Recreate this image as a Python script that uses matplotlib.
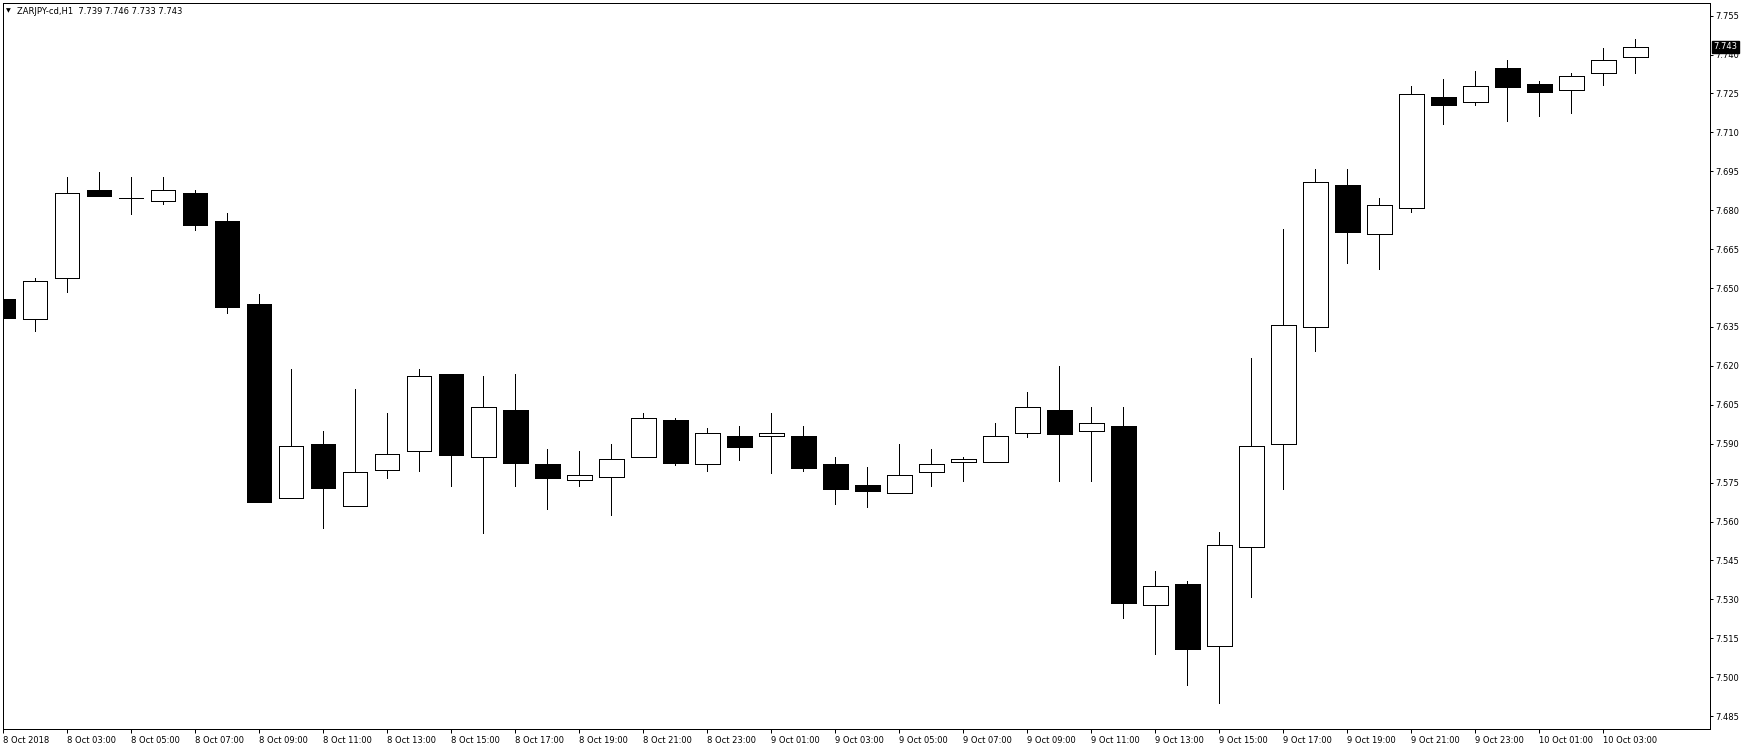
import numpy as np
import matplotlib
matplotlib.use('Agg')
import matplotlib.pyplot as plt
import matplotlib.transforms as mtransforms
from matplotlib.patches import Rectangle

plt.rcParams['font.family'] = ['DejaVu Sans']
plt.rcParams['font.size'] = 6

# ZARJPY-cd H1, 8 Oct 01:00 -> 10 Oct 04:00
opens = [7.6458, 7.6380, 7.6537, 7.6877, 7.6846, 7.6837, 7.6866, 7.6758, 7.6439, 7.5690,
         7.5899, 7.5658, 7.5797, 7.5871, 7.6169, 7.5848, 7.6030, 7.5822, 7.5759, 7.5771,
         7.5848, 7.5991, 7.5821, 7.5929, 7.5929, 7.5929, 7.5822, 7.5741, 7.5709, 7.5790,
         7.5828, 7.5828, 7.5940, 7.6029, 7.5948, 7.5968, 7.5279, 7.5359, 7.5119, 7.5501,
         7.5898, 7.6349, 7.6896, 7.6707, 7.6807, 7.7235, 7.7216, 7.7347, 7.7285, 7.7265,
         7.7328, 7.739]
highs = [7.6518, 7.6539, 7.6928, 7.6947, 7.6928, 7.6928, 7.6877, 7.6789, 7.6476, 7.6188,
         7.5949, 7.6111, 7.6018, 7.6188, 7.6170, 7.6161, 7.6169, 7.5880, 7.5872, 7.5899,
         7.6018, 7.5998, 7.5960, 7.5968, 7.6018, 7.5968, 7.5849, 7.5810, 7.5899, 7.5880,
         7.5849, 7.5980, 7.6099, 7.6199, 7.6041, 7.6041, 7.5409, 7.5371, 7.5560, 7.6230,
         7.6728, 7.6959, 7.6959, 7.6847, 7.7279, 7.7306, 7.7337, 7.7379, 7.7298, 7.7329,
         7.7425, 7.746]
lows = [7.6335, 7.6336, 7.6485, 7.6856, 7.6787, 7.6825, 7.6725, 7.6405, 7.5675, 7.5690,
        7.5576, 7.5658, 7.5769, 7.5796, 7.5738, 7.5557, 7.5738, 7.5649, 7.5738, 7.5626,
        7.5848, 7.5819, 7.5796, 7.5838, 7.5788, 7.5796, 7.5669, 7.5657, 7.5709, 7.5738,
        7.5757, 7.5828, 7.5927, 7.5757, 7.5757, 7.5229, 7.5091, 7.4971, 7.4899, 7.5310,
        7.5727, 7.6259, 7.6598, 7.6575, 7.6794, 7.7134, 7.7207, 7.7145, 7.7164, 7.7176,
        7.7284, 7.733]
closes = [7.6386, 7.6526, 7.6865, 7.6856, 7.6846, 7.6877, 7.6744, 7.6427, 7.5675, 7.5890,
          7.5729, 7.5790, 7.5859, 7.6160, 7.5858, 7.6040, 7.5827, 7.5769, 7.5778, 7.5840,
          7.5998, 7.5827, 7.5940, 7.5888, 7.5940, 7.5808, 7.5727, 7.5719, 7.5778, 7.5821,
          7.5840, 7.5929, 7.6040, 7.5939, 7.5979, 7.5287, 7.5350, 7.5110, 7.5508, 7.5890,
          7.6356, 7.6907, 7.6717, 7.6819, 7.7247, 7.7207, 7.7278, 7.7276, 7.7255, 7.7316,
          7.7378, 7.743]

x_labels = ['8 Oct 2018', '8 Oct 03:00', '8 Oct 05:00', '8 Oct 07:00', '8 Oct 09:00',
            '8 Oct 11:00', '8 Oct 13:00', '8 Oct 15:00', '8 Oct 17:00', '8 Oct 19:00',
            '8 Oct 21:00', '8 Oct 23:00', '9 Oct 01:00', '9 Oct 03:00', '9 Oct 05:00',
            '9 Oct 07:00', '9 Oct 09:00', '9 Oct 11:00', '9 Oct 13:00', '9 Oct 15:00',
            '9 Oct 17:00', '9 Oct 19:00', '9 Oct 21:00', '9 Oct 23:00', '10 Oct 01:00',
            '10 Oct 03:00']
y_ticks = [7.485, 7.500, 7.515, 7.530, 7.545, 7.560, 7.575, 7.590, 7.605, 7.620,
           7.635, 7.650, 7.665, 7.680, 7.695, 7.710, 7.725, 7.740, 7.755]

W, H = 1750, 750
fig = plt.figure(figsize=(W / 100, H / 100), dpi=100)
fig.patch.set_facecolor('white')
ax = fig.add_axes([2.5 / W, (H - 729.3) / H, (1710 - 2.5) / W, (729.3 - 2.7) / H])

# candles, 1px lines
lw = 0.72
n = len(opens)
body_w = 0.76
for i in range(n):
    o, h, l, c = opens[i], highs[i], lows[i], closes[i]
    ax.vlines(i, l, h, colors='black', linewidth=lw, antialiased=False, zorder=2)
    bottom = min(o, c)
    height = abs(c - o)
    fc = 'white' if c >= o else 'black'
    ax.add_patch(Rectangle((i - body_w / 2, bottom), body_w, height,
                           facecolor=fc, edgecolor='black', linewidth=lw,
                           antialiased=False, zorder=3))

ax.set_xlim(-0.025, 53.33)
ax.set_ylim(7.4799, 7.7600)

# axes like MT4
for s in ax.spines.values():
    s.set_color('black')
    s.set_linewidth(lw)

ax.set_xticks(range(0, n, 2))
ax.set_xticklabels(x_labels, ha='left')
ax.tick_params(axis='x', direction='out', length=3, width=lw, pad=1.5, colors='black')

ax.yaxis.tick_right()
ax.set_yticks(y_ticks)
ax.set_yticklabels([f'{v:.3f}' for v in y_ticks])
ax.tick_params(axis='y', direction='out', length=2.5, width=lw, pad=1.2, colors='black')

# current price box
trans = mtransforms.blended_transform_factory(ax.transAxes, ax.transData)
ax.text(1.0022, closes[-1], f'{closes[-1]:.3f}', transform=trans, color='white',
        fontsize=6, va='center', ha='left', clip_on=False, zorder=10,
        bbox=dict(boxstyle='square,pad=0.18', facecolor='black', edgecolor='black'))

# header
fig.text(6 / W, 1 - 11 / H, '▼', fontsize=4.5, va='center', ha='left')
fig.text(17 / W, 1 - 11 / H,
         f'ZARJPY-cd,H1  {opens[-1]:.3f} {highs[-1]:.3f} {lows[-1]:.3f} {closes[-1]:.3f}',
         fontsize=6, va='center', ha='left')

fig.savefig('out.png', dpi=100)
